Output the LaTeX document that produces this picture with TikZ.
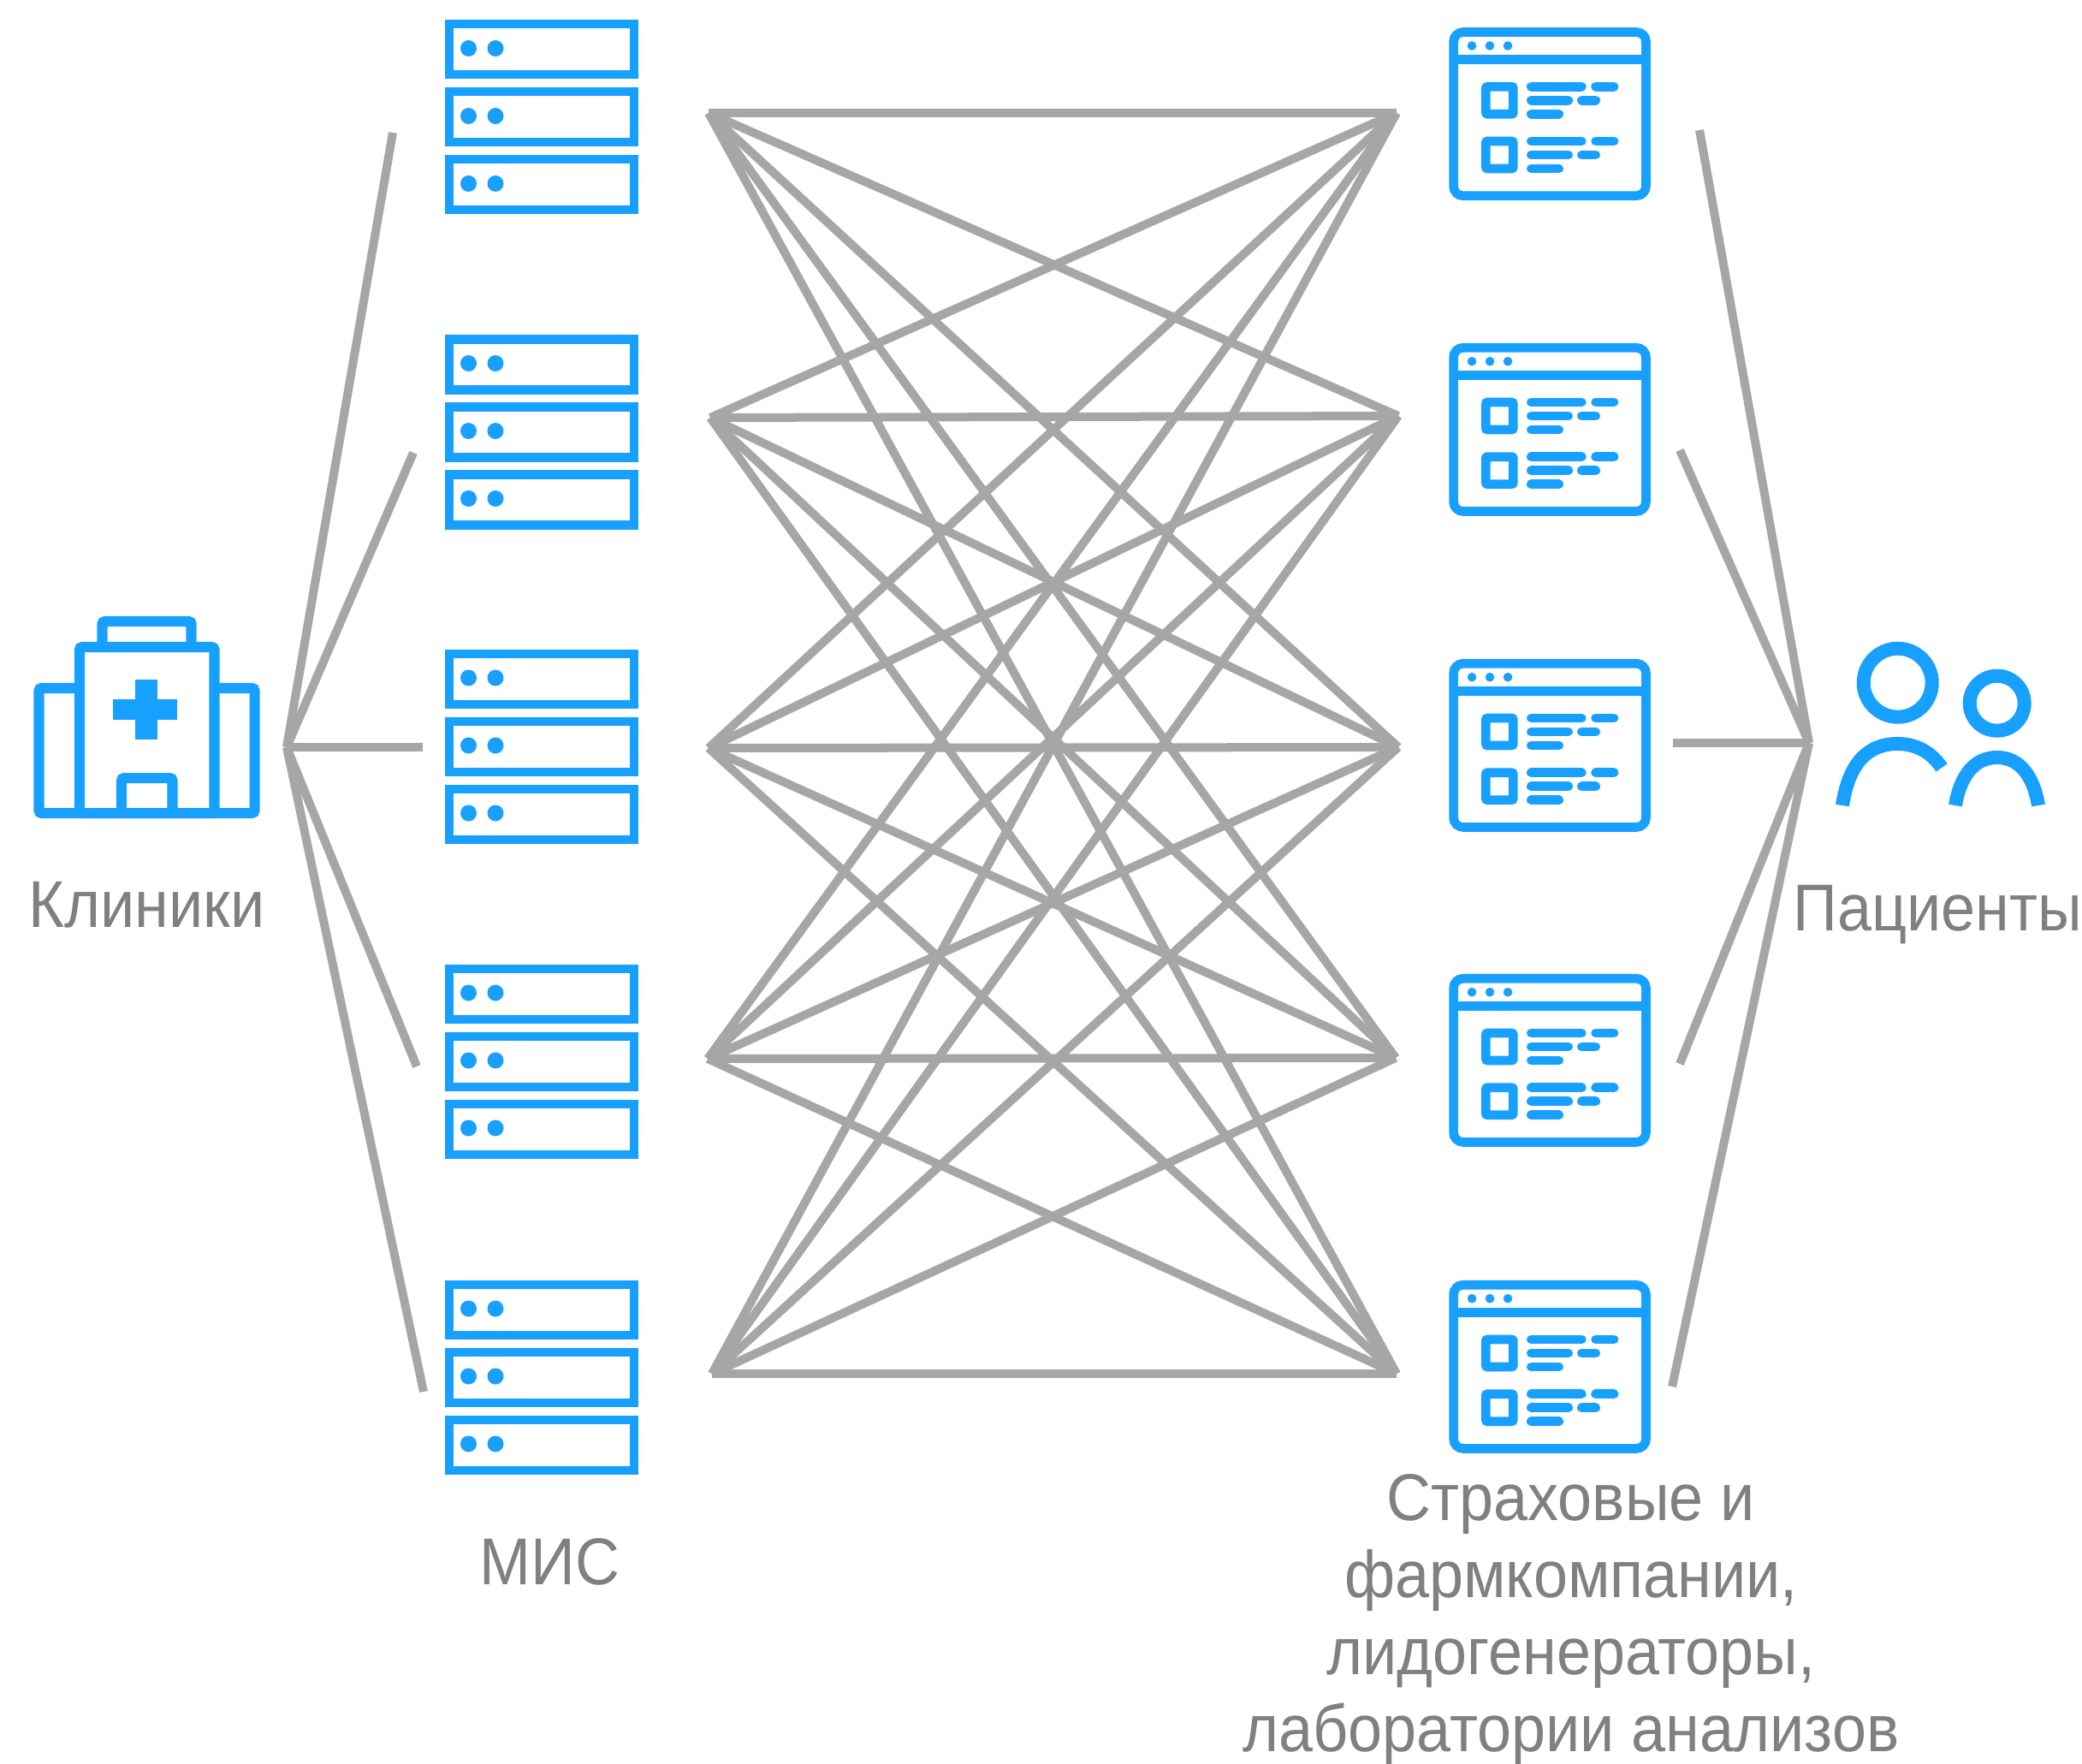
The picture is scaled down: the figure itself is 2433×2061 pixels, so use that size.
\documentclass[tikz,border=0pt]{standalone}
\usepackage{fontspec}
\setmainfont[FakeStretch=0.93]{Liberation Sans}
\usetikzlibrary{positioning}

\definecolor{iconblue}{HTML}{18A0FF}
\definecolor{linkgray}{HTML}{A6A6A6}
\definecolor{labelgray}{HTML}{808080}

\tikzset{
    link/.style={draw=linkgray, line width=0.1cm},
    iconline/.style={draw=iconblue, line width=0.1cm},
    caption/.style={text=labelgray, font=\fontsize{22}{25.6}\selectfont, align=center, inner sep=0pt},
    pics/serverrack/.style={code={
        \foreach \r in {0,79,158} {
            \draw[iconline] (5,5+\r) rectangle (221,64+\r);
            \fill[iconblue] (27.5,33+\r) circle (9.5) (59,33+\r) circle (9.5);
        }
    }},
    pics/webwindow/.style={code={
        \draw[iconline, line width=0.107cm, rounded corners=0.11cm] (5.3,5.3) rectangle (230.1,196.4);
        \draw[iconline, line width=0.107cm] (5.3,37.2) -- (230.1,37.2);
        \fill[iconblue] (26.7,21.2) circle (5.3) (47.7,21.2) circle (5.3) (68.7,21.2) circle (5.3);
        \foreach \r in {0,63.7} {
            \draw[iconline, line width=0.107cm, rounded corners=0.02cm] (43,69+\r) rectangle (75,101+\r);
            \draw[iconline, line width=0.107cm, line cap=round]
                (96,69+\r) -- (155,69+\r) (171.3,69+\r) -- (192.7,69+\r)
                (96,85+\r) -- (139.4,85+\r) (155,85+\r) -- (171.4,85+\r)
                (96,101+\r) -- (128.4,101+\r);
        }
    }},
}

\begin{document}
\begin{tikzpicture}[x=0.01cm, y=-0.01cm]
    \useasboundingbox (0,0) rectangle (2433,2061);

    % Hospital
    \begin{scope}[iconline, line width=0.12cm, rounded corners=0.03cm]
        \draw (93,756) rectangle (250.5,950);
        \draw (93,804) -- (45.5,804) -- (45.5,950) -- (297.5,950) -- (297.5,804) -- (250.5,804);
        \draw (119.5,756) -- (119.5,726) -- (223.5,726) -- (223.5,756);
        \draw (142,950) -- (142,909) -- (201.5,909) -- (201.5,950);
    \end{scope}
    \fill[iconblue] (157.6,794) rectangle (183.7,864);
    \fill[iconblue] (131.6,817) rectangle (207,841);

    % Servers and windows
    \foreach \i/\y in {1/23.5,2/391.5,3/759,4/1127,5/1496} {
        \pic at (520,\y) {serverrack};
    }
    \foreach \i/\y in {1/32.3,2/401,3/770,4/1138,5/1496} {
        \pic at (1693.3,\y) {webwindow};
    }

    % Patients
    \begin{scope}[iconline, line width=0.16cm]
        \draw (2217.7,797.7) circle (40);
        \draw (2333.7,821.7) circle (32);
        \draw (2153,941) .. controls (2160,895) and (2180,869) .. (2217.7,869)
            .. controls (2240,869) and (2258,880) .. (2269,897);
        \draw (2285,941) .. controls (2291,905) and (2308,885) .. (2333.7,885)
            .. controls (2359,885) and (2376,905) .. (2382,941);
    \end{scope}

    % Labels
    \node[caption, anchor=base west] (clinics) at (33,1083) {Клиники};
    \node[caption, anchor=base west] (mis) at (560,1851) {МИС};
    \node[caption, anchor=base west] (patients) at (2095,1087) {Пациенты};
    \node[caption, anchor=north] (insurers) at (1836,1722) {Страховые и\\фармкомпании,\\лидогенераторы,\\лаборатории анализов};

    % Fan points
    \coordinate (clinichub) at (335,873);
    \coordinate (patienthub) at (2114,868);
    \foreach \i/\x/\y in {1/459/155,2/483/529,3/494/873,4/487/1246,5/495/1626} {
        \coordinate (clinicend\i) at (\x,\y);
    }
    \foreach \i/\x/\y in {1/1986/152,2/1963/526,3/1955/868,4/1963/1243,5/1954/1620} {
        \coordinate (patientend\i) at (\x,\y);
    }
    \foreach \i/\x/\y in {1/828/132,2/830/488,3/828/874,4/827/1237,5/832/1605} {
        \coordinate (misport\i) at (\x,\y);
    }
    \foreach \i/\x/\y in {1/1632/132,2/1634/486,3/1634/873,4/1631/1236,5/1632/1605} {
        \coordinate (insport\i) at (\x,\y);
    }

    % Connectors
    \foreach \i in {1,...,5} {
        \draw[link] (clinichub) -- (clinicend\i);
        \draw[link] (patienthub) -- (patientend\i);
        \foreach \j in {1,...,5} {
            \draw[link] (misport\i) -- (insport\j);
        }
    }
\end{tikzpicture}
\end{document}
